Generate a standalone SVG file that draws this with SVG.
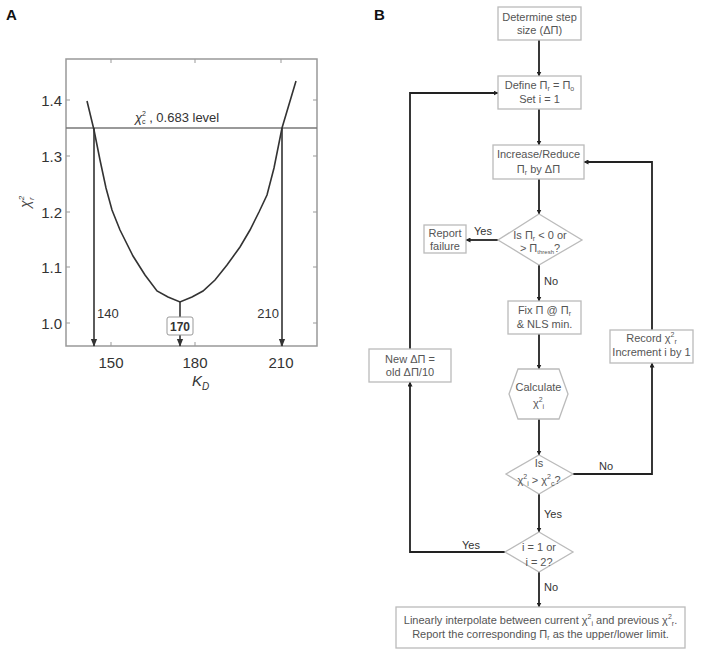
<svg xmlns="http://www.w3.org/2000/svg" width="701" height="658" viewBox="0 0 701 658">
<defs>
<marker id="ah" viewBox="0 0 10 10" refX="9" refY="5" markerWidth="5" markerHeight="5" orient="auto" markerUnits="userSpaceOnUse">
<path d="M0,0 L10,5 L0,10 z" fill="#222"/>
</marker>
<marker id="ahp" viewBox="0 0 10 10" refX="9" refY="5" markerWidth="8" markerHeight="8" orient="auto" markerUnits="userSpaceOnUse">
<path d="M0,1 L10,5 L0,9 z" fill="#333"/>
</marker>
</defs>
<style>
text{font-family:"Liberation Sans",Arial,sans-serif;}
.panel{font-size:15px;font-weight:bold;fill:#111;}
.tick{font-size:15px;fill:#333;}
.axis{fill:none;stroke:#999;stroke-width:1.5;}
.tk{stroke:#999;stroke-width:1;}
.curve{fill:none;stroke:#333;stroke-width:1.6;}
.parr{stroke:#333;stroke-width:1.6;marker-end:url(#ahp);}
.box{fill:#fff;stroke:#bbb;stroke-width:1.3;}
.bt{font-size:11px;fill:#555;text-anchor:middle;}
.lbl{font-size:11px;fill:#333;}
.con{fill:none;stroke:#222;stroke-width:1.8;}
.cona{fill:none;stroke:#222;stroke-width:1.8;marker-end:url(#ah);}
.sm{font-size:7px;}
</style>
<rect width="701" height="658" fill="#fff"/>

<!-- Panel A -->
<g id="panelA">
<text class="panel" x="6" y="20">A</text>
<rect class="axis" x="66" y="59" width="251" height="287"/>
<g class="tk">
<line x1="111" y1="346" x2="111" y2="342"/><line x1="195" y1="346" x2="195" y2="342"/><line x1="281" y1="346" x2="281" y2="342"/>
<line x1="111" y1="59" x2="111" y2="63"/><line x1="195" y1="59" x2="195" y2="63"/><line x1="281" y1="59" x2="281" y2="63"/>
<line x1="66" y1="100" x2="70" y2="100"/><line x1="66" y1="156" x2="70" y2="156"/><line x1="66" y1="212" x2="70" y2="212"/><line x1="66" y1="267" x2="70" y2="267"/><line x1="66" y1="323" x2="70" y2="323"/>
<line x1="317" y1="100" x2="313" y2="100"/><line x1="317" y1="156" x2="313" y2="156"/><line x1="317" y1="212" x2="313" y2="212"/><line x1="317" y1="267" x2="313" y2="267"/><line x1="317" y1="323" x2="313" y2="323"/>
</g>
<g class="tick" text-anchor="end">
<text x="62" y="106">1.4</text><text x="62" y="162">1.3</text><text x="62" y="218">1.2</text><text x="62" y="273">1.1</text><text x="62" y="329">1.0</text>
</g>
<g class="tick" text-anchor="middle">
<text x="111" y="368">150</text><text x="195" y="368">180</text><text x="281" y="368">210</text>
</g>
<text x="192" y="386" font-size="15" font-style="italic" fill="#333">K<tspan font-size="10" dy="4">D</tspan></text>
<text transform="translate(30,208) rotate(-90)" font-size="14" font-style="italic" fill="#444">χ<tspan font-size="8" dy="-6">2</tspan><tspan font-size="8" dx="-4" dy="10">r</tspan></text>
<line x1="66" y1="128" x2="317" y2="128" stroke="#777" stroke-width="1.4"/>
<text x="135" y="122" font-size="13" fill="#333"><tspan font-style="italic">χ</tspan><tspan font-size="7" dy="-6">2</tspan><tspan font-size="7" dx="-4" dy="8">c</tspan><tspan dy="-2"> , 0.683 level</tspan></text>
<polyline class="curve" points="87,101 94,130 100,160 106,188 112,210 120,230 133,256 145,275 157,291 168,297 180,302 192,297 203,291 215,280 227,265 240,247 250,230 259,212 267,195 274,168 282,128 296,81"/>
<line class="parr" x1="94" y1="128" x2="94" y2="346"/>
<line class="parr" x1="282" y1="128" x2="282" y2="346"/>
<line class="parr" x1="180" y1="302" x2="180" y2="346"/>
<rect x="167" y="317" width="26" height="18" rx="2" fill="#fff" stroke="#999" stroke-width="1"/>
<text x="180" y="331" font-size="12" font-weight="bold" fill="#333" text-anchor="middle">170</text>
<text x="97" y="318" font-size="13" fill="#333">140</text>
<text x="279" y="318" font-size="13" fill="#333" text-anchor="end">210</text>
</g>

<!-- Panel B -->
<text class="panel" x="374" y="20">B</text>

<g id="connectors">
<line class="cona" x1="539" y1="40" x2="539" y2="76"/>
<line class="cona" x1="539" y1="109" x2="539" y2="145"/>
<line class="cona" x1="539" y1="179" x2="539" y2="214"/>
<line class="cona" x1="498" y1="240" x2="466" y2="240"/>
<line class="cona" x1="539" y1="265" x2="539" y2="301"/>
<line class="cona" x1="539" y1="334" x2="539" y2="369"/>
<line class="cona" x1="539" y1="419" x2="539" y2="455"/>
<polyline class="cona" points="573,474 652,474 652,363"/>
<polyline class="cona" points="652,330 652,162 584,162"/>
<line class="cona" x1="539" y1="494" x2="539" y2="532"/>
<polyline class="cona" points="505,552 410,552 410,382"/>
<polyline class="cona" points="410,349 410,93 498,93"/>
<line class="cona" x1="539" y1="572" x2="539" y2="607"/>
</g>

<g id="labels">
<text class="lbl" x="474" y="235">Yes</text>
<text class="lbl" x="544" y="285">No</text>
<text class="lbl" x="599" y="470">No</text>
<text class="lbl" x="544" y="518">Yes</text>
<text class="lbl" x="462" y="549">Yes</text>
<text class="lbl" x="544" y="591">No</text>
</g>

<g id="n-step">
<rect class="box" x="498" y="7" width="83" height="33"/>
<text class="bt" x="539.5" y="21">Determine step</text>
<text class="bt" x="539.5" y="34">size (ΔΠ)</text>
</g>
<g id="n-define">
<rect class="box" x="498" y="76" width="83" height="33"/>
<text class="bt" x="539.5" y="89">Define Π<tspan class="sm" dy="2">r</tspan><tspan dy="-2"> = Π</tspan><tspan class="sm" dy="2">o</tspan></text>
<text class="bt" x="539.5" y="103">Set i = 1</text>
</g>
<g id="n-increase">
<rect class="box" x="493" y="145" width="91" height="34"/>
<text class="bt" x="538.5" y="158">Increase/Reduce</text>
<text class="bt" x="538.5" y="173">Π<tspan class="sm" dy="2">r</tspan><tspan dy="-2"> by ΔΠ</tspan></text>
</g>
<g id="n-check">
<polygon class="box" points="539,214 582,240 539,265 498,240"/>
<text class="bt" x="540" y="239">Is Π<tspan class="sm" dy="2">r</tspan><tspan dy="-2"> &lt; 0 or</tspan></text>
<text class="bt" x="540" y="252">&gt; Π<tspan font-size="6" dy="2">thresh</tspan><tspan dy="-2">?</tspan></text>
</g>
<g id="n-failure">
<rect class="box" x="424" y="225" width="42" height="28"/>
<text class="bt" x="445" y="237">Report</text>
<text class="bt" x="445" y="250">failure</text>
</g>
<g id="n-fix">
<rect class="box" x="508" y="301" width="73" height="33"/>
<text class="bt" x="544.5" y="314">Fix Π @ Π<tspan class="sm" dy="2">r</tspan></text>
<text class="bt" x="544.5" y="328">&amp; NLS min.</text>
</g>
<g id="n-calc">
<polygon class="box" points="518,369 559,369 568,394 559,419 518,419 509,394"/>
<text class="bt" x="538.5" y="391">Calculate</text>
<text class="bt" x="538.5" y="407">χ<tspan class="sm" dy="-5">2</tspan><tspan class="sm" dy="7">i</tspan></text>
</g>
<g id="n-compare">
<polygon class="box" points="539,455 573,474 539,494 506,474"/>
<text class="bt" x="539" y="467">Is</text>
<text class="bt" x="539" y="484" font-size="10">χ<tspan class="sm" dy="-5">2</tspan><tspan class="sm" dy="7">i</tspan><tspan dy="-2"> &gt; χ</tspan><tspan class="sm" dy="-5">2</tspan><tspan class="sm" dy="7">c</tspan><tspan dy="-2">?</tspan></text>
</g>
<g id="n-record">
<rect class="box" x="610" y="330" width="83" height="33"/>
<text class="bt" x="651.5" y="342">Record χ<tspan class="sm" dy="-5">2</tspan><tspan class="sm" dy="7">r</tspan></text>
<text class="bt" x="651.5" y="356">Increment i by 1</text>
</g>
<g id="n-newstep">
<rect class="box" x="369" y="349" width="82" height="33"/>
<text class="bt" x="410" y="363">New ΔΠ =</text>
<text class="bt" x="410" y="376">old ΔΠ/10</text>
</g>
<g id="n-i12">
<polygon class="box" points="539,532 573,552 539,572 505,552"/>
<text class="bt" x="539" y="551">i = 1 or</text>
<text class="bt" x="539" y="566">i = 2?</text>
</g>
<g id="n-final">
<rect class="box" x="396" y="607" width="289" height="41"/>
<text class="bt" x="540.5" y="624">Linearly interpolate between current χ<tspan class="sm" dy="-5">2</tspan><tspan class="sm" dy="7">i</tspan><tspan dy="-2"> and previous χ</tspan><tspan class="sm" dy="-5">2</tspan><tspan class="sm" dy="7">r</tspan><tspan dy="-2">.</tspan></text>
<text class="bt" x="540.5" y="638">Report the corresponding Π<tspan class="sm" dy="2">r</tspan><tspan dy="-2"> as the upper/lower limit.</tspan></text>
</g>
</svg>
